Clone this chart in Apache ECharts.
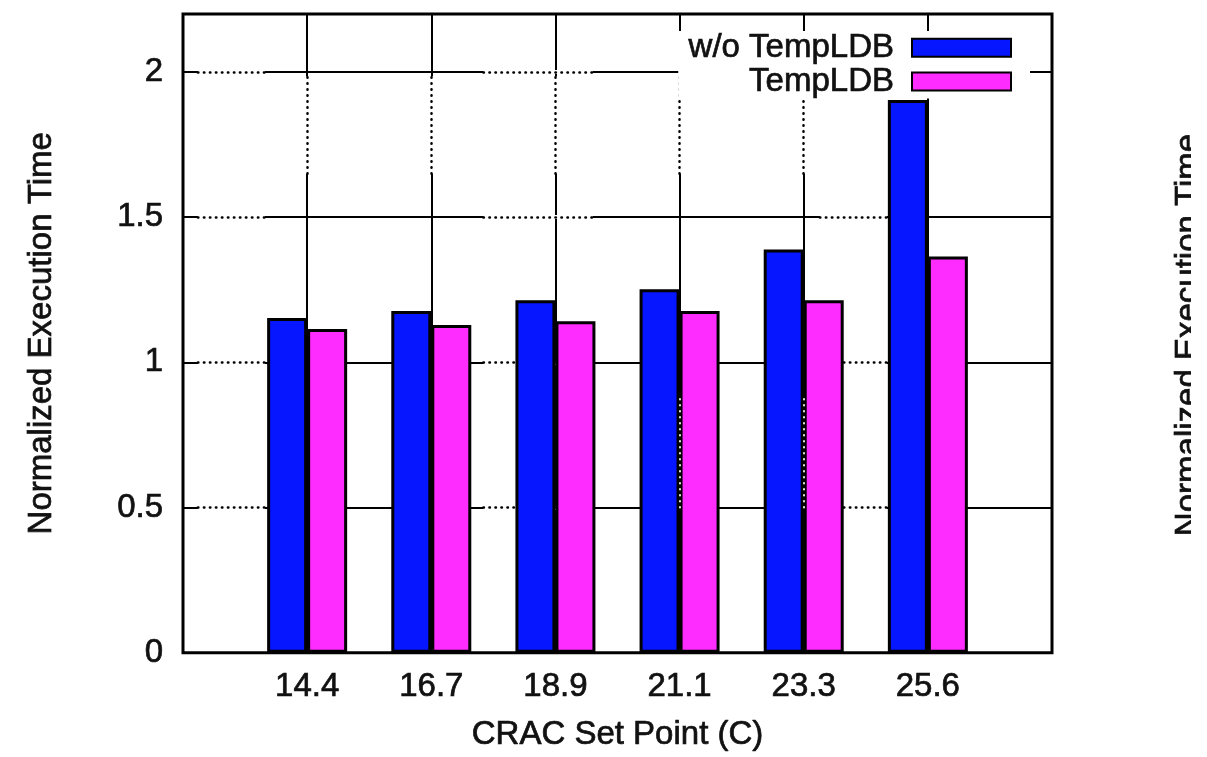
<!DOCTYPE html>
<html>
<head>
<meta charset="utf-8">
<script src="https://cdn.jsdelivr.net/npm/echarts@6/dist/echarts.min.js"></script>
<style>
  html, body { margin: 0; padding: 0; background: #fff; }
  #chart { width: 1207px; height: 757px; }
</style>
</head>
<body>
<div id="chart"></div>
<script>
// ---- data ----
const categories = ['14.4', '16.7', '18.9', '21.1', '23.3', '25.6'];
const woTempLDB = [1.153, 1.177, 1.214, 1.252, 1.389, 1.904];
const tempLDB   = [1.115, 1.129, 1.142, 1.177, 1.214, 1.365];
const seriesNames = ['w/o TempLDB', 'TempLDB'];
const yTicks = [0, 0.5, 1, 1.5, 2];
const xAxisTitle = 'CRAC Set Point (C)';
const yAxisTitle = 'Normalized Execution Time';

// decorative dotted grid fragments (data units)
const hDotRows = [0.5, 1, 1.5, 2];
const hDotSpans = [[0.12, 0.66], [2.42, 3.30], [5.13, 5.67]];
const vDotCols = [1, 2, 3, 4, 5];
const vDotSpan = [1.65, 1.985];
const innerDotCols = [4, 5];
const innerDotSpan = [0.5, 0.88];

const FONT = '"Liberation Sans", Arial, Helvetica, sans-serif';
const FS = 33;
const TXT = '#111';
const heavy = { textBorderColor: TXT, textBorderWidth: 0.7 };

const dotSegs = [];
hDotRows.forEach(y => hDotSpans.forEach(s => dotSegs.push({ coords: [[s[0], y], [s[1], y]] })));
vDotCols.forEach(x => dotSegs.push({ coords: [[x, vDotSpan[0]], [x, vDotSpan[1]]] }));
const innerSegs = innerDotCols.map(x => ({ coords: [[x, innerDotSpan[0]], [x, innerDotSpan[1]]] }));

const chart = echarts.init(document.getElementById('chart'), null, { renderer: 'canvas' });
chart.setOption({
  animation: false,
  backgroundColor: '#fff',
  grid: {
    left: 183, right: 155, top: 14, bottom: 101,
    show: true, borderColor: '#000', borderWidth: 3, backgroundColor: 'transparent'
  },
  legend: {
    data: seriesNames,
    orient: 'vertical',
    right: 177, top: 31,
    align: 'right',
    icon: 'rect',
    itemWidth: 99, itemHeight: 18,
    itemGap: 0,
    padding: [0, 18, 0, 10],
    backgroundColor: '#fff',
    textStyle: Object.assign({ fontFamily: FONT, fontSize: FS, color: TXT, lineHeight: 33, padding: [0, 13, 0, 0] }, heavy),
    selectedMode: false
  },
  xAxis: {
    type: 'value', min: 0, max: 7, interval: 1,
    axisLine: { show: false }, axisTick: { show: false },
    splitLine: { show: true, lineStyle: { color: '#000', width: 2 } },
    axisLabel: Object.assign({
      fontFamily: FONT, fontSize: FS, color: TXT, margin: 18,
      formatter: v => (v >= 1 && v <= categories.length) ? categories[v - 1] : ''
    }, heavy),
    name: xAxisTitle, nameLocation: 'middle', nameGap: 66,
    nameTextStyle: Object.assign({ fontFamily: FONT, fontSize: FS, color: TXT }, heavy)
  },
  yAxis: {
    type: 'value', min: 0, max: 2.2, interval: 0.5,
    axisLine: { show: false }, axisTick: { show: false },
    splitLine: { show: true, lineStyle: { color: '#000', width: 2 } },
    axisLabel: Object.assign({
      fontFamily: FONT, fontSize: FS, color: TXT, margin: 20,
      formatter: v => yTicks.some(t => Math.abs(t - v) < 1e-6) ? String(v) : ''
    }, heavy),
    name: yAxisTitle, nameLocation: 'middle', nameGap: 125,
    nameTextStyle: Object.assign({ fontFamily: FONT, fontSize: FS, color: TXT }, heavy)
  },
  series: [
    {
      name: seriesNames[0], type: 'bar', z: 2,
      data: categories.map((c, i) => [i + 1, woTempLDB[i]]),
      barWidth: 40, barGap: '0%',
      itemStyle: { color: '#0616ff', borderColor: '#000', borderWidth: 3 }
    },
    {
      name: seriesNames[1], type: 'bar', z: 2,
      data: categories.map((c, i) => [i + 1, tempLDB[i]]),
      barWidth: 40, barGap: '0%',
      itemStyle: { color: '#ff2cff', borderColor: '#000', borderWidth: 3 }
    },
    {
      type: 'lines', coordinateSystem: 'cartesian2d', polyline: false, silent: true, z: 1,
      data: dotSegs,
      lineStyle: { color: '#fff', width: 4, opacity: 1 }
    },
    {
      type: 'lines', coordinateSystem: 'cartesian2d', polyline: false, silent: true, z: 1,
      data: dotSegs,
      lineStyle: { color: '#000', width: 2.5, opacity: 1, type: [0.5, 5.5], cap: 'round' }
    },
    {
      type: 'lines', coordinateSystem: 'cartesian2d', polyline: false, silent: true, z: 3,
      data: innerSegs,
      lineStyle: { color: '#fff', width: 1.8, opacity: 1, type: [0.5, 5.5], cap: 'round' }
    }
  ],
  graphic: [
    {
      type: 'text', x: 1189, y: 335, rotation: Math.PI / 2, z: 10,
      style: { text: yAxisTitle, font: FS + 'px ' + FONT, fill: TXT, stroke: TXT, lineWidth: 0.7,
               align: 'center', verticalAlign: 'middle', textAlign: 'center', textVerticalAlign: 'middle' }
    },
    {
      type: 'rect', z: 11,
      shape: { x: 1191, y: 0, width: 16, height: 757 },
      style: { fill: '#fff' }
    }
  ]
});
</script>
</body>
</html>
